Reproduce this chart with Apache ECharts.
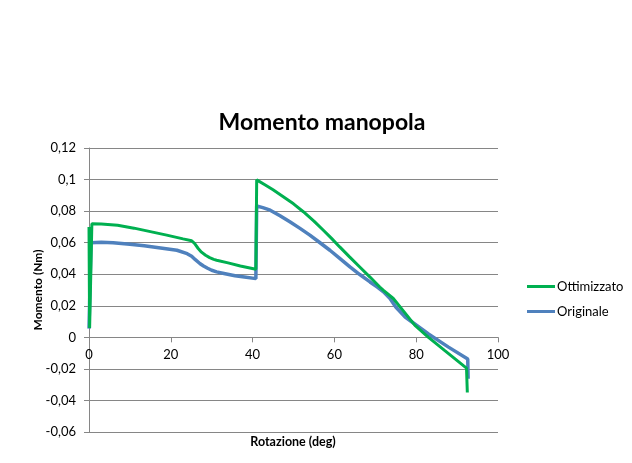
<!DOCTYPE html>
<html>
<head>
<meta charset="utf-8">
<script src="https://cdn.jsdelivr.net/npm/echarts@6/dist/echarts.min.js"></script>
<style>html,body{margin:0;padding:0;background:#fff}#c{width:632px;height:463px}</style>
</head>
<body>
<div id="c"></div>
<script>
// Ottimizzato (green)
var ottX = [0, 0.15, 0.6, 0.7, 3, 7, 11, 15, 19, 23, 25.1, 25.8, 26.7, 27.5, 28.5, 29.5, 30.5, 31.2, 34, 37, 40.8, 41, 43, 45, 47.5, 50, 52.4, 55, 57.3, 59.3, 61.3, 63.7, 66.2, 68.7, 71.1, 72, 74.4, 77, 79.7, 83, 87, 92.3, 92.5];
var ottY = [0.070, 0.006, 0.006, 0.0720, 0.0719, 0.0711, 0.0692, 0.0670, 0.0648, 0.0624, 0.0612, 0.0595, 0.0563, 0.0540, 0.0520, 0.0505, 0.0494, 0.0489, 0.0472, 0.0452, 0.0432, 0.0998, 0.0967, 0.0935, 0.0891, 0.0846, 0.0796, 0.0737, 0.0679, 0.0627, 0.0573, 0.0510, 0.0446, 0.0382, 0.0319, 0.0298, 0.0246, 0.0163, 0.0076, 0.0, -0.0084, -0.0195, -0.0350];
// Originale (blue)
var origX = [0, 0.4, 0.5, 3, 5.9, 6.2, 10, 10.4, 13.5, 13.7, 17.5, 17.7, 21.5, 21.8, 24, 25.1, 26, 27.1, 28, 29, 30, 31.2, 33, 35.7, 38, 40.8, 41, 42.5, 44.3, 46.7, 49.1, 51.5, 54, 56.4, 58.9, 61.3, 63.8, 66.2, 68.7, 70.5, 72, 73.6, 75, 77.3, 83, 87.9, 92.6, 92.7];
var origY = [0.0055, 0.0055, 0.0600, 0.0602, 0.0600, 0.0596, 0.0590, 0.0584, 0.0580, 0.0570, 0.0566, 0.0557, 0.0552, 0.0542, 0.0530, 0.0514, 0.0492, 0.0468, 0.0452, 0.0438, 0.0425, 0.0415, 0.0405, 0.0390, 0.0382, 0.0372, 0.0832, 0.0822, 0.0806, 0.0770, 0.0732, 0.0692, 0.0648, 0.0601, 0.0552, 0.0500, 0.0446, 0.0398, 0.0351, 0.0318, 0.0288, 0.0246, 0.0192, 0.0129, 0.0021, -0.0062, -0.0138, -0.0262];
var seriesNames = ['Ottimizzato', 'Originale'];
var titleText = 'Momento manopola';
var xName = 'Rotazione (deg)';
var yName = 'Momento (Nm)';
var yMin = -0.06, yMax = 0.12, yStep = 0.02;

function pairs(xs, ys) { return xs.map(function (x, i) { return [x, ys[i]]; }); }

var FONT = 'Lato';
var W = 632, H = 463;
var G = { left: 89, right: 134, top: 148, bottom: 31 };
var gridH = H - G.top - G.bottom;
// move the x axis up to the y = 0 line (the axis crosses at zero)
var xAxisOffset = -gridH * (0 - yMin) / (yMax - yMin);

var chart = echarts.init(document.getElementById('c'));
chart.setOption({
  animation: false,
  backgroundColor: '#fff',
  title: {
    text: titleText, left: 317, top: 106, textAlign: 'center',
    textStyle: { fontFamily: FONT, fontSize: 23, fontWeight: 'bold', color: '#000' }
  },
  legend: {
    orient: 'vertical', left: 527, top: 280, padding: 0, itemWidth: 28, itemHeight: 3, itemGap: 12,
    textStyle: { fontFamily: FONT, fontSize: 13, color: '#000', padding: [0, 0, 0, -3] },
    data: [{ name: seriesNames[0], icon: 'rect' }, { name: seriesNames[1], icon: 'rect' }]
  },
  grid: { left: G.left, right: G.right, top: G.top, bottom: G.bottom, containLabel: false },
  xAxis: {
    type: 'value', min: 0, max: 100, interval: 20, position: 'bottom', offset: xAxisOffset,
    axisLine: { onZero: false, lineStyle: { color: '#868686', width: 1 } },
    axisTick: { show: true, length: 5, lineStyle: { color: '#868686' } },
    axisLabel: { fontFamily: FONT, fontSize: 13, color: '#000', margin: 11 },
    splitLine: { show: false }
  },
  yAxis: {
    type: 'value', min: yMin, max: yMax, interval: yStep,
    name: yName, nameLocation: 'middle', nameGap: 45, nameRotate: 90, nameMoveOverlap: false,
    nameTextStyle: { fontFamily: FONT, fontSize: 12, fontWeight: 'bold', color: '#000' },
    axisLine: { show: true, onZero: false, lineStyle: { color: '#868686', width: 1 } },
    axisTick: { show: true, length: 5, lineStyle: { color: '#868686' } },
    axisLabel: {
      fontFamily: FONT, fontSize: 13, color: '#000', margin: 13,
      formatter: function (v) { var r = Math.round(v * 100) / 100; return String(r).replace('.', ','); }
    },
    splitLine: { show: true, lineStyle: { color: '#868686', width: 1 } }
  },
  graphic: [{
    type: 'text', x: 293, y: 435,
    style: { text: xName, fontFamily: FONT, fontSize: 12.5, fontWeight: 'bold', fill: '#000', textAlign: 'center' }
  }],
  series: [
    { name: seriesNames[0], type: 'line', data: pairs(ottX, ottY), symbol: 'none', z: 3,
      lineStyle: { color: '#00B050', width: 3 }, itemStyle: { color: '#00B050' } },
    { name: seriesNames[1], type: 'line', data: pairs(origX, origY), symbol: 'none', z: 2,
      lineStyle: { color: '#4F81BD', width: 3.5 }, itemStyle: { color: '#4F81BD' } }
  ]
});
</script>
</body>
</html>
